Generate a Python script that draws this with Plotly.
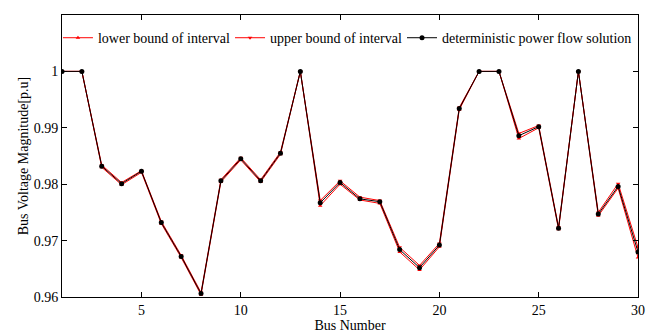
import plotly.graph_objects as go

bus = list(range(1, 31))
det = [1.0, 1.0, 0.9832, 0.9801, 0.9823, 0.9732, 0.9672, 0.9606, 0.9806, 0.9845,
       0.9806, 0.9855, 1.0, 0.9767, 0.9803, 0.9774, 0.9769, 0.9684, 0.9652, 0.9692,
       0.9934, 1.0, 1.0, 0.9886, 0.9902, 0.9722, 1.0, 0.9747, 0.9796, 0.9680]
lower = [1.0, 1.0, 0.9830, 0.9799, 0.9821, 0.9730, 0.9670, 0.9604, 0.9804, 0.9843,
         0.9804, 0.9853, 1.0, 0.9762, 0.9800, 0.9772, 0.9766, 0.9680, 0.9648, 0.9689,
         0.9932, 1.0, 1.0, 0.9881, 0.9900, 0.9720, 1.0, 0.9744, 0.9793, 0.9670]
upper = [1.0, 1.0, 0.9834, 0.9803, 0.9824, 0.9734, 0.9674, 0.9608, 0.9808, 0.9847,
         0.9808, 0.9857, 1.0, 0.9771, 0.9806, 0.9777, 0.9771, 0.9688, 0.9656, 0.9695,
         0.9936, 1.0, 1.0, 0.9890, 0.9904, 0.9724, 1.0, 0.9750, 0.9801, 0.9688]

x_ticks = [5, 10, 15, 20, 25, 30]
y_ticks = [0.96, 0.97, 0.98, 0.99, 1.0, 1.01]
y_tick_text = ["0.96", "0.97", "0.98", "0.99", "1", "1.01"]

FONT = "Liberation Serif"

fig = go.Figure()
fig.add_trace(go.Scatter(x=bus, y=lower, mode="lines+markers", name="lower bound of interval",
                         line=dict(color="#ff0000", width=1), legend="legend",
                         marker=dict(symbol="triangle-up", size=4, color="#ff0000")))
fig.add_trace(go.Scatter(x=bus, y=upper, mode="lines+markers", name="upper bound of interval",
                         line=dict(color="#ff0000", width=1), legend="legend2",
                         marker=dict(symbol="triangle-down", size=4, color="#ff0000")))
fig.add_trace(go.Scatter(x=bus, y=det, mode="lines+markers", name="deterministic power flow solution",
                         line=dict(color="#000000", width=1), legend="legend3",
                         marker=dict(symbol="circle", size=5, color="#000000")))

axis_common = dict(showline=True, linecolor="black", linewidth=1, mirror="ticks",
                   ticks="inside", ticklen=5, tickcolor="black", tickwidth=1,
                   showgrid=False, zeroline=False,
                   tickfont=dict(family=FONT, size=14, color="black"))

legend_common = dict(orientation="h", y=0.918, xanchor="left", yanchor="middle",
                     bgcolor="rgba(0,0,0,0)", borderwidth=0, itemwidth=30,
                     font=dict(family=FONT, size=14, color="black"))

# page body has an 8px default margin, so the figure is sized 8px smaller
fig.update_layout(
    width=646, height=326,
    margin=dict(l=54, r=16, t=7, b=37, autoexpand=False),
    paper_bgcolor="white", plot_bgcolor="white",
    font=dict(family=FONT, size=14, color="black"),
    showlegend=True,
    legend=dict(x=-0.007, **legend_common),
    legend2=dict(x=0.2917, **legend_common),
    legend3=dict(x=0.5903, **legend_common),
    xaxis=dict(range=[1, 30], tickvals=x_ticks, ticktext=[str(v) for v in x_ticks],
               title=dict(text="Bus Number", standoff=2, font=dict(family=FONT, size=14)),
               **axis_common),
    yaxis=dict(range=[0.96, 1.01], tickvals=y_ticks, ticktext=y_tick_text,
               title=dict(text="Bus Voltage Magnitude[p.u]", standoff=1, font=dict(family=FONT, size=14)),
               **axis_common),
)

fig.write_html("out.html")
